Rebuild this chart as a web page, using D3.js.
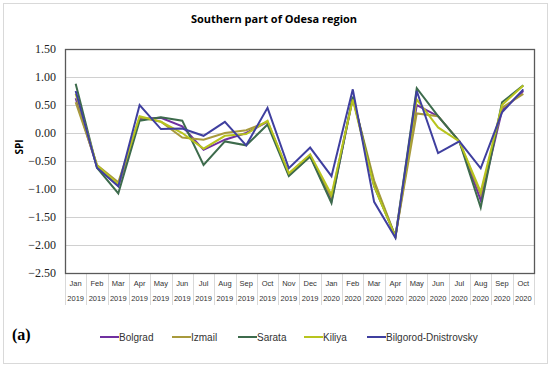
<!DOCTYPE html>
<html>
<head>
<meta charset="utf-8">
<script src="https://cdn.jsdelivr.net/npm/d3@7"></script>
<style>
  body { margin: 0; background: #fff; }
  svg { display: block; }
</style>
</head>
<body>
<svg id="chart" width="550" height="370"></svg>
<script>
var months = ["Jan","Feb","Mar","Apr","May","Jun","Jul","Aug","Sep","Oct","Nov","Dec",
              "Jan","Feb","Mar","Apr","May","Jun","Jul","Aug","Sep","Oct"];
var years = ["2019","2019","2019","2019","2019","2019","2019","2019","2019","2019","2019","2019",
             "2020","2020","2020","2020","2020","2020","2020","2020","2020","2020"];
var yTicks = [1.5, 1.0, 0.5, 0.0, -0.5, -1.0, -1.5, -2.0, -2.5];

var stations = ["Bolgrad", "Izmail", "Sarata", "Kiliya", "Bilgorod-Dnistrovsky"];
var colors = ["#7030a0", "#a89a3c", "#3d6b4c", "#b8c41e", "#3f3f9f"];

var bolgrad = [0.62, -0.60, -0.95, 0.25, 0.27, 0.12, -0.30, -0.12, 0.00, 0.20, -0.73, -0.40,
               -1.22, 0.62, -0.90, -1.85, 0.50, 0.30, -0.15, -1.20, 0.40, 0.75];
var izmail = [0.55, -0.57, -0.88, 0.28, 0.20, -0.08, -0.12, 0.00, 0.05, 0.20, -0.75, -0.42,
              -1.15, 0.63, -0.85, -1.85, 0.35, 0.30, -0.15, -1.10, 0.45, 0.70];
var sarata = [0.88, -0.62, -1.08, 0.22, 0.28, 0.22, -0.57, -0.15, -0.22, 0.15, -0.77, -0.42,
              -1.25, 0.65, -0.95, -1.85, 0.80, 0.30, -0.15, -1.33, 0.55, 0.85];
var kiliya = [0.70, -0.58, -0.92, 0.30, 0.20, 0.00, -0.28, -0.05, -0.02, 0.22, -0.72, -0.38,
              -1.10, 0.60, -0.95, -1.85, 0.60, 0.10, -0.15, -1.05, 0.50, 0.85];
var bilgorod = [0.75, -0.62, -0.95, 0.50, 0.07, 0.08, -0.05, 0.20, -0.22, 0.45, -0.63, -0.26,
                -0.77, 0.78, -1.23, -1.87, 0.75, -0.36, -0.15, -0.63, 0.37, 0.78];
var seriesValues = [bolgrad, izmail, sarata, kiliya, bilgorod];

var svg = d3.select("#chart");
var margin = {top: 49, right: 16, bottom: 97, left: 65};
var width = 550 - margin.left - margin.right,
    height = 370 - margin.top - margin.bottom;

// outer frame
svg.append("rect")
  .attr("x", 3.5).attr("y", 3.5)
  .attr("width", 544).attr("height", 360)
  .attr("fill", "none")
  .attr("stroke", "#d9d9d9");

svg.append("text")
  .attr("x", 274)
  .attr("y", 23)
  .attr("text-anchor", "middle")
  .attr("font-family", "'Open Sans', 'Liberation Sans', sans-serif")
  .attr("font-weight", "bold")
  .attr("font-size", "11px")
  .text("Southern part of Odesa region");

var g = svg.append("g").attr("transform", "translate(" + margin.left + "," + margin.top + ")");

var x = d3.scaleBand().domain(d3.range(months.length)).range([0, width]);
var y = d3.scaleLinear().domain([-2.5, 1.5]).range([height, 0]);

// gridlines
g.selectAll(".grid")
  .data(yTicks)
  .enter().append("line")
    .attr("class", "grid")
    .attr("x1", 0).attr("x2", width)
    .attr("y1", function(d) { return Math.round(y(d)) + 0.5; })
    .attr("y2", function(d) { return Math.round(y(d)) + 0.5; })
    .attr("stroke", "#d0d0d0")
    .attr("stroke-width", 1);

// y axis labels
var yAxis = g.append("g")
  .call(d3.axisLeft(y).tickValues(yTicks).tickSize(0).tickPadding(9)
    .tickFormat(function(d) { return d3.format(".2f")(d).replace("-", "\u2212"); }));
yAxis.select(".domain").remove();
yAxis.attr("font-family", "'Liberation Serif', 'DejaVu Serif', serif")
  .attr("font-size", "12px");
yAxis.selectAll("text")
  .attr("fill", "#222");

svg.append("text")
  .attr("transform", "translate(23," + (margin.top + y(-0.25)) + ") rotate(-90)")
  .attr("text-anchor", "middle")
  .attr("font-family", "'Open Sans', 'Liberation Sans', sans-serif")
  .attr("font-weight", "bold")
  .attr("font-size", "10px")
  .text("SPI");

// category separators below axis
g.selectAll(".sep")
  .data(d3.range(months.length + 1))
  .enter().append("line")
    .attr("class", "sep")
    .attr("x1", function(i) { return Math.round(i * x.step()) + 0.5; })
    .attr("x2", function(i) { return Math.round(i * x.step()) + 0.5; })
    .attr("y1", height)
    .attr("y2", height + 32)
    .attr("stroke", "#d9d9d9");

var xl = g.append("g").attr("transform", "translate(0," + height + ")");
xl.selectAll(".mon")
  .data(months)
  .enter().append("text")
    .attr("x", function(d, i) { return x(i) + x.bandwidth() / 2; })
    .attr("y", 13)
    .attr("text-anchor", "middle")
    .attr("font-family", "'Liberation Sans', sans-serif")
    .attr("font-size", "7.5px")
    .attr("fill", "#333")
    .text(function(d) { return d; });
xl.selectAll(".yr")
  .data(years)
  .enter().append("text")
    .attr("x", function(d, i) { return x(i) + x.bandwidth() / 2; })
    .attr("y", 28)
    .attr("text-anchor", "middle")
    .attr("font-family", "'Liberation Sans', sans-serif")
    .attr("font-size", "7.5px")
    .attr("fill", "#333")
    .text(function(d) { return d; });

// plot border
g.append("rect")
  .attr("x", 0.5).attr("y", 0.5)
  .attr("width", width).attr("height", height)
  .attr("fill", "none")
  .attr("stroke", "#595959")
  .attr("stroke-width", 1.3);

// lines
var line = d3.line()
  .x(function(d, i) { return x(i) + x.bandwidth() / 2; })
  .y(function(d) { return y(d); });

g.selectAll(".series")
  .data(seriesValues)
  .enter().append("path")
    .attr("class", "series")
    .attr("d", line)
    .attr("fill", "none")
    .attr("stroke", function(d, i) { return colors[i]; })
    .attr("stroke-width", 2)
    .attr("stroke-linejoin", "miter");

// panel label
svg.append("text")
  .attr("x", 12)
  .attr("y", 340)
  .attr("font-family", "'Liberation Serif', serif")
  .attr("font-weight", "bold")
  .attr("font-size", "16px")
  .text("(a)");

// legend
var legendX = [100, 172, 238, 304, 367];
var leg = svg.selectAll(".legend")
  .data(stations)
  .enter().append("g")
    .attr("class", "legend")
    .attr("transform", function(d, i) { return "translate(" + legendX[i] + ",337)"; });
leg.append("line")
  .attr("x1", 0).attr("x2", 19)
  .attr("y1", 0).attr("y2", 0)
  .attr("stroke", function(d, i) { return colors[i]; })
  .attr("stroke-width", 2);
leg.append("text")
  .attr("x", 19)
  .attr("y", 3.5)
  .attr("font-family", "'Liberation Sans', sans-serif")
  .attr("font-size", "10px")
  .attr("fill", "#333")
  .text(function(d) { return d; });
</script>
</body>
</html>
